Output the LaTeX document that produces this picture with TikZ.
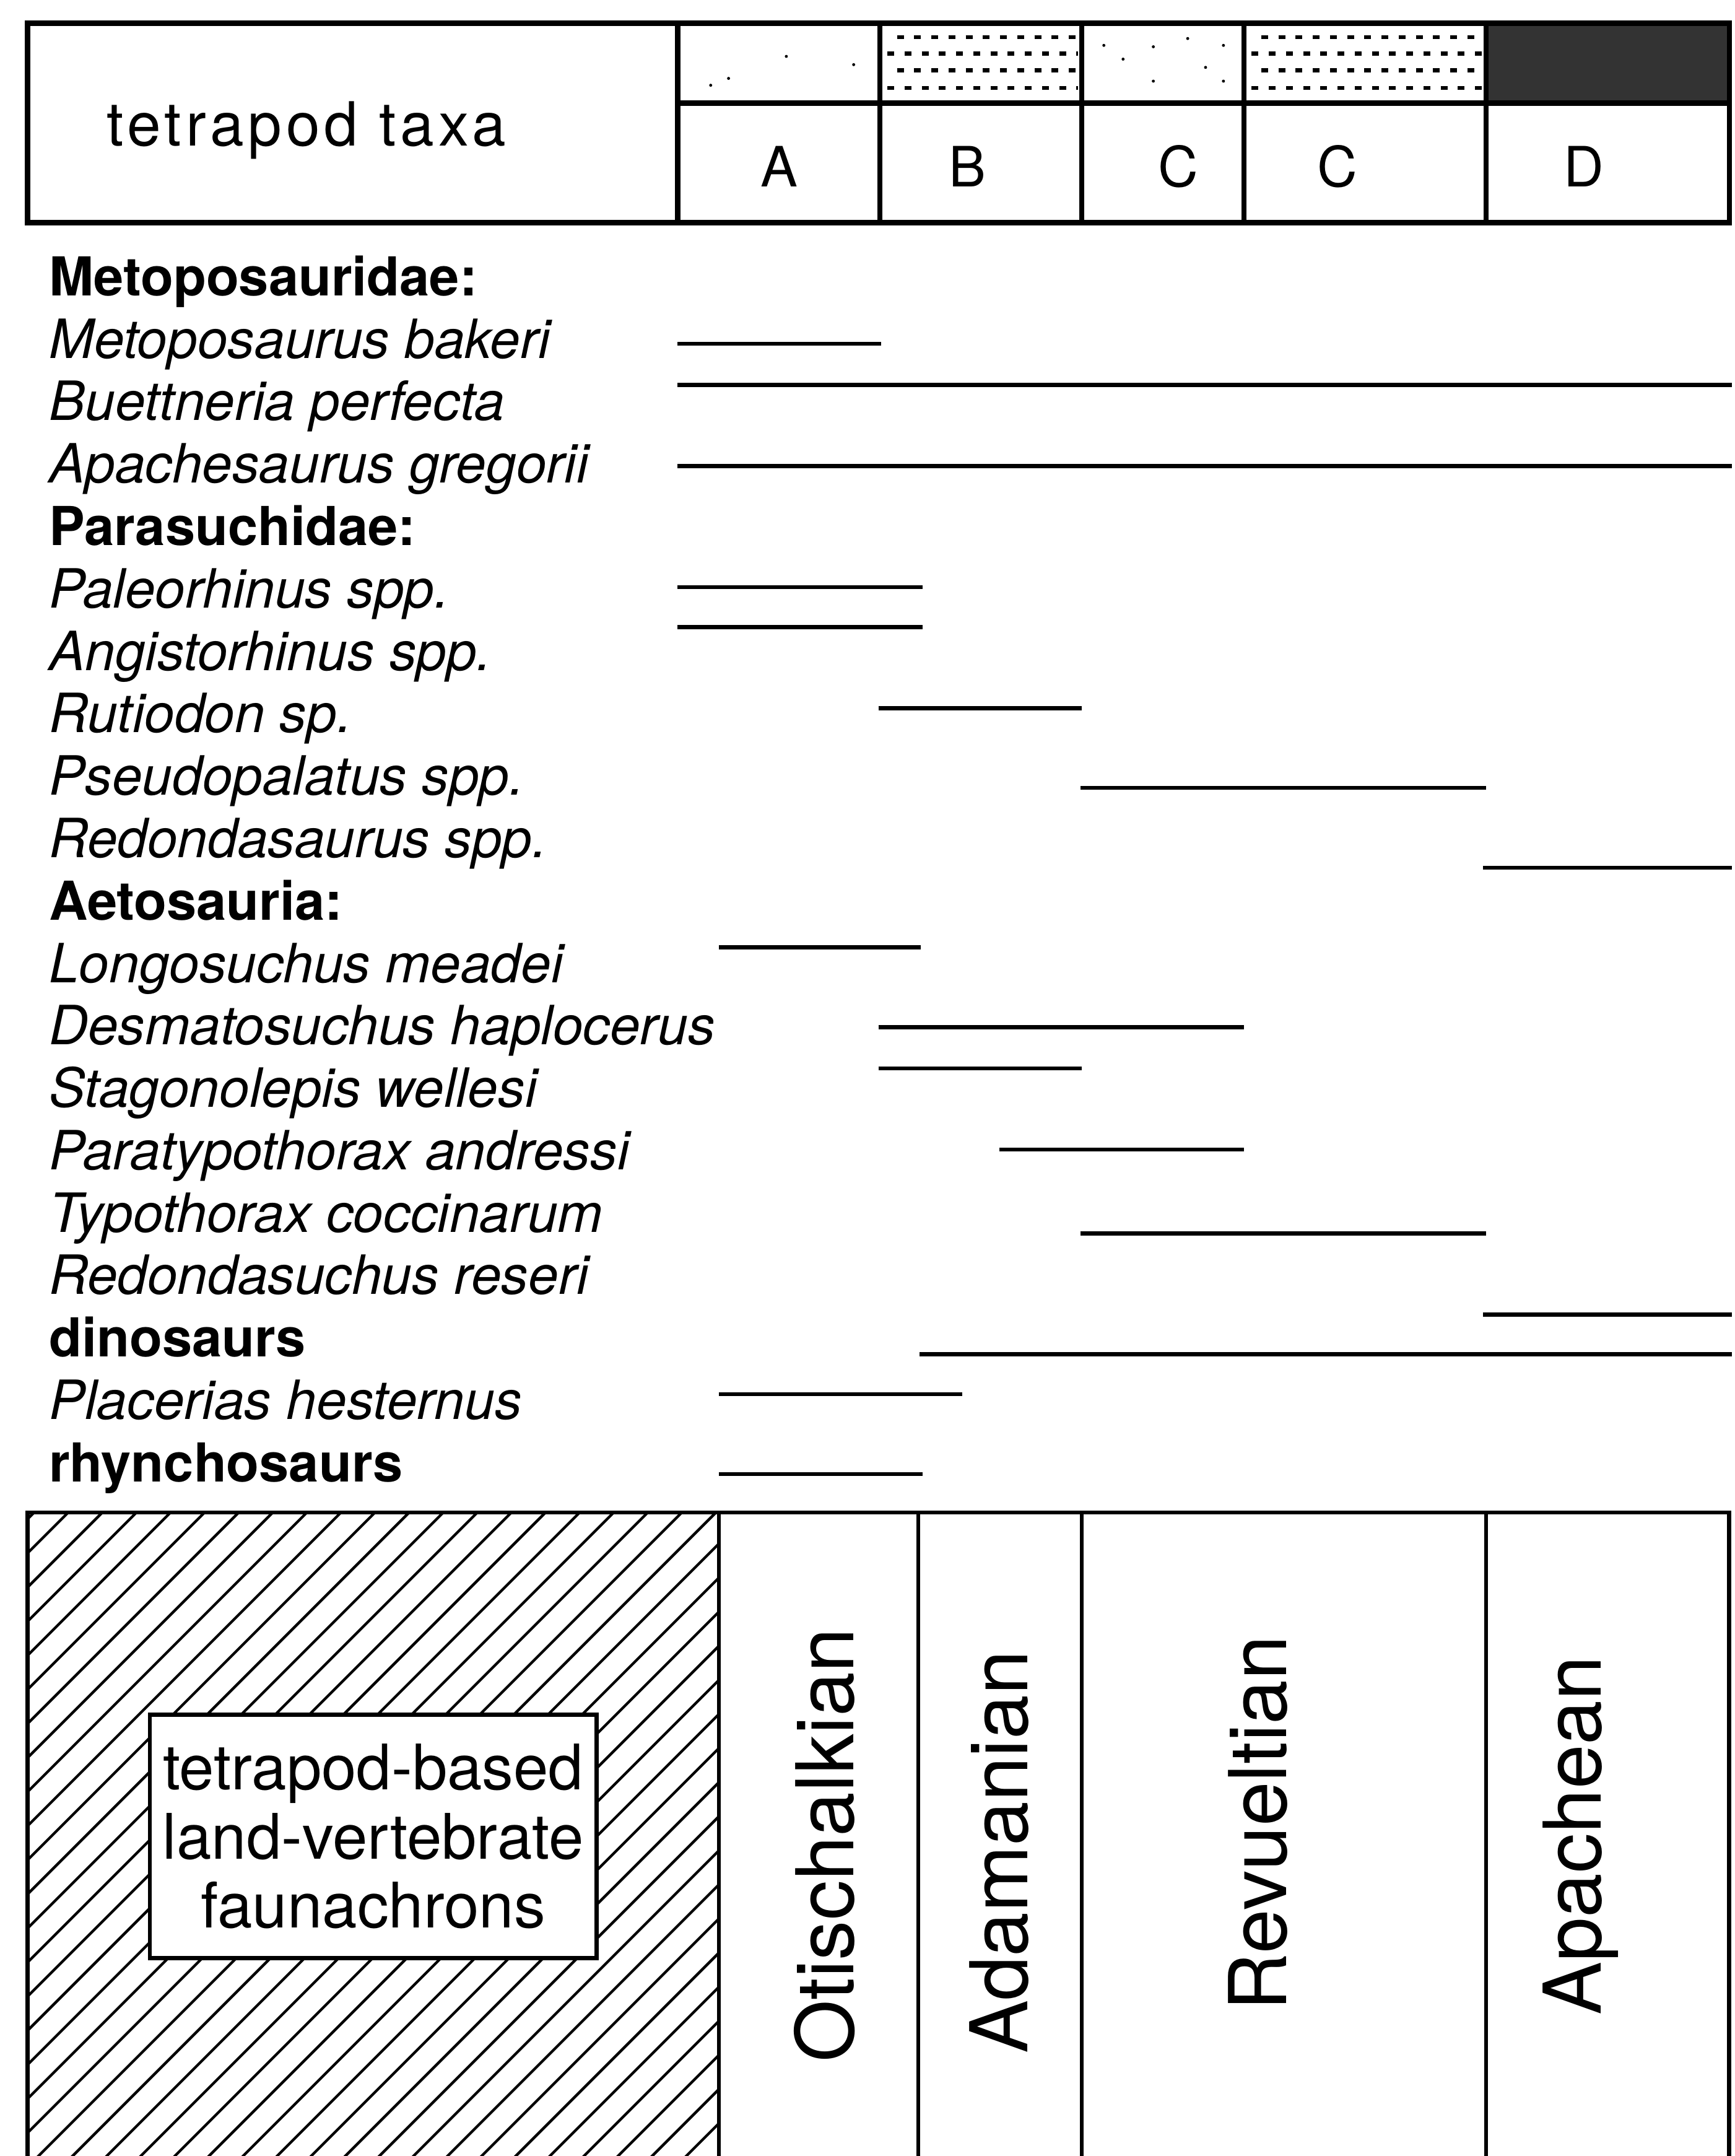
\documentclass[tikz,border=0pt]{standalone}
\usepackage{fontspec}
\setmainfont{TeX Gyre Heros}
\begin{document}
\begin{tikzpicture}[x=0.1mm,y=-0.1mm,
    frame/.style={line width=1.1pt},
    rule/.style={line width=0.85pt},
    bar/.style={line width=0.85pt},
    hatch/.style={line width=0.55pt},
    stipple/.style={line width=0.85pt,dash pattern=on 0.5mm off 0.75mm},
    speck/.style={fill=black},
    taxon/.style={anchor=base west,inner sep=0pt,font=\fontsize{11.2}{13}\selectfont\itshape},
    group/.style={anchor=base west,inner sep=0pt,font=\fontsize{11.1}{13}\selectfont\bfseries},
    zone/.style={anchor=base,inner sep=0pt,font=\fontsize{11.5}{13}\selectfont},
    stage/.style={rotate=90,inner sep=0pt,font=\fontsize{16.5}{18}\selectfont}]
  \useasboundingbox (0,0) rectangle (1262,1568);

  % header
  \fill[black!80] (1081,17) rectangle (1258,75);
  \foreach \l/\r in {640/787,905/1081} {
    \draw[stipple] (\l+12.5,27) -- (\r-3,27);
    \draw[stipple] (\l+5.5,39) -- (\r-3,39);
    \draw[stipple] (\l+12.5,51) -- (\r-3,51);
    \draw[stipple] (\l+5.5,64) -- (\r-3,64);
  }
  \foreach \x/\y in {572/41,621/47,530/57,517/62,864/28,803/33,839/34,890/33,817/43,877/49,839/59,890/59}
    \fill[speck] (\x,\y) circle (1.1);
  \draw[frame] (20,17) rectangle (1258,162);
  \draw[frame] (493,75) -- (1258,75);
  \foreach \x in {493,640,787,905,1081}
    \draw[frame] (\x,17) -- (\x,162);
  \node[anchor=base,inner sep=0pt,font=\fontsize{12.6}{15}\selectfont\addfontfeatures{LetterSpace=7}] (taxa) at (223,106) {tetrapod taxa};
  \node[zone] (zA) at (567,136) {A};
  \node[zone] (zB) at (704,136) {B};
  \node[zone] (zC1) at (857,136) {C};
  \node[zone] (zC2) at (973,136) {C};
  \node[zone] (zD) at (1152,136) {D};

  % taxa
  \node[group] (metopo) at (35,215) {Metoposauridae:};
  \node[taxon] (mbakeri) at (35,260.4) {Metoposaurus bakeri};
  \node[taxon] (bperfecta) at (35,305.8) {Buettneria perfecta};
  \node[taxon] (agregorii) at (35,351.2) {Apachesaurus gregorii};
  \node[group] (parasuch) at (35,396.6) {Parasuchidae:};
  \node[taxon] (paleo) at (35,442) {Paleorhinus spp.};
  \node[taxon] (angis) at (35,487.4) {Angistorhinus spp.};
  \node[taxon] (rutio) at (35,532.8) {Rutiodon sp.};
  \node[taxon] (pseudo) at (35,578.2) {Pseudopalatus spp.};
  \node[taxon] (redsaur) at (35,623.6) {Redondasaurus spp.};
  \node[group] (aeto) at (35,669) {Aetosauria:};
  \node[taxon] (longo) at (35,714.4) {Longosuchus meadei};
  \node[taxon] (desma) at (35,759.8) {Desmatosuchus haplocerus};
  \node[taxon] (stago) at (35,805.2) {Stagonolepis wellesi};
  \node[taxon] (paraty) at (35,850.6) {Paratypothorax andressi};
  \node[taxon] (typo) at (35,896) {Typothorax coccinarum};
  \node[taxon] (redsuch) at (35,941.4) {Redondasuchus reseri};
  \node[group] (dino) at (35,986.8) {dinosaurs};
  \node[taxon] (placer) at (35,1032.2) {Placerias hesternus};
  \node[group] (rhyncho) at (35,1077.6) {rhynchosaurs};

  % ranges
  \foreach \a/\b/\y in {493/641/250,493/1260/280,493/1260/339,493/671/427,493/671/456,
      639/787/515,786/1081/573,1079/1260/631,523/670/689,639/905/747,639/787/777,
      727/905/836,786/1081/897,1079/1260/956,669/1260/985,523/700/1014,523/671/1072}
    \draw[bar] (\a,\y) -- (\b,\y);

  % faunachrons
  \begin{scope}
    \clip (20,1100) rectangle (523,1570);
    \foreach \x in {-470,-445.2,...,530}
      \draw[hatch] (\x,1570) -- ++(480,-480);
  \end{scope}
  \draw[rule] (20,1570) -- (20,1100) -- (1258,1100) -- (1258,1570);
  \foreach \x in {523,668,787,1081}
    \draw[rule] (\x,1100) -- (\x,1570);
  \node[draw,rule,fill=white,minimum width=32.5mm,minimum height=17.7mm,inner sep=0pt,
    align=center,font=\fontsize{13}{14.3}\selectfont] (lvf) at (271.5,1335.5)
    {tetrapod-based\\land-vertebrate\\faunachrons};
  \node[stage] (otis) at (600,1342) {Otischalkian};
  \node[stage] (adam) at (727,1347) {Adamanian};
  \node[stage] (revu) at (915,1326) {Revueltian};
  \node[stage] (apac) at (1150,1335) {Apachean};
\end{tikzpicture}
\end{document}
